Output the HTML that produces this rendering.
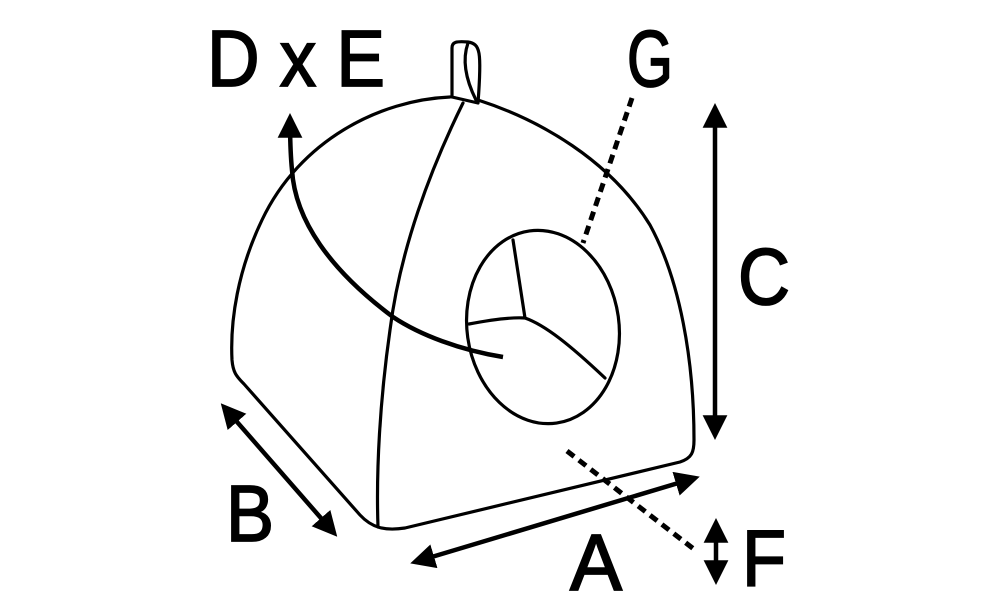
<!DOCTYPE html>
<html><head><style>body{margin:0;background:#fff}svg{display:block}</style></head>
<body>
<svg width="1000" height="600" viewBox="0 0 1000 600" xmlns="http://www.w3.org/2000/svg">
<defs>
<marker id="ah" viewBox="0 0 10 10" refX="8" refY="5" markerWidth="5.5" markerHeight="5.5" orient="auto-start-reverse" markerUnits="strokeWidth">
<path d="M0,0 L10,5 L0,10 z" fill="#000"/></marker>
</defs>
<g fill="none" stroke="#000" stroke-width="3.2" stroke-linecap="round" stroke-linejoin="round">
<path d="M450,97 C380,100 300,140 262,220 C238,270 230,320 232,360 C233,372 236,376 244,384 L360,515 C372,528 385,531 405,528 L680,462 C692,458 694,452 694,440 C694,360 680,280 650,225 C610,160 540,120 478,100"/>
<path d="M463,103 C430,170 400,250 390,330 C380,400 376,470 378,527"/>
<path d="M452,97 L452,48 C452,42 456,41 468,42 C480,44 482,50 478,103 L452,97"/>
<path d="M468,43 C462,60 466,80 476,100"/>
<ellipse cx="543" cy="327" rx="76" ry="97" transform="rotate(-8 543 327)"/>
<path d="M513,240 L525,318 M469,324 C490,320 510,317 525,318 M525,318 C545,325 570,345 605,378"/>
</g>
<g fill="none" stroke="#000" stroke-width="4.5">
<path d="M503,357 C460,350 420,335 393,317 C330,270 295,220 292,170 C290,150 290,130 290,118" marker-end="url(#ah)"/>
<line x1="715" y1="108" x2="715" y2="435" marker-start="url(#ah)" marker-end="url(#ah)"/>
<line x1="415" y1="562" x2="695" y2="478" marker-start="url(#ah)" marker-end="url(#ah)"/>
<line x1="224" y1="407" x2="334" y2="533" marker-start="url(#ah)" marker-end="url(#ah)"/>
<line x1="716" y1="523" x2="716" y2="580" marker-start="url(#ah)" marker-end="url(#ah)"/>
</g>
<g stroke="#000" stroke-width="5" stroke-dasharray="9,6" fill="none">
<line x1="632" y1="98" x2="583" y2="243"/>
<line x1="567" y1="451" x2="695" y2="550"/>
</g>
<g font-family="Liberation Sans, sans-serif" font-size="80" fill="#000" stroke="#000" stroke-width="1.8">
<text x="207" y="86" textLength="178" lengthAdjust="spacingAndGlyphs">D x E</text>
<text x="627" y="86" textLength="46" lengthAdjust="spacingAndGlyphs">G</text>
<text x="738" y="304" textLength="52" lengthAdjust="spacingAndGlyphs">C</text>
<text x="226" y="541" textLength="48" lengthAdjust="spacingAndGlyphs">B</text>
<text x="570" y="590" textLength="52" lengthAdjust="spacingAndGlyphs">A</text>
<text x="742" y="586" textLength="44" lengthAdjust="spacingAndGlyphs">F</text>
</g>
</svg>
</body></html>
